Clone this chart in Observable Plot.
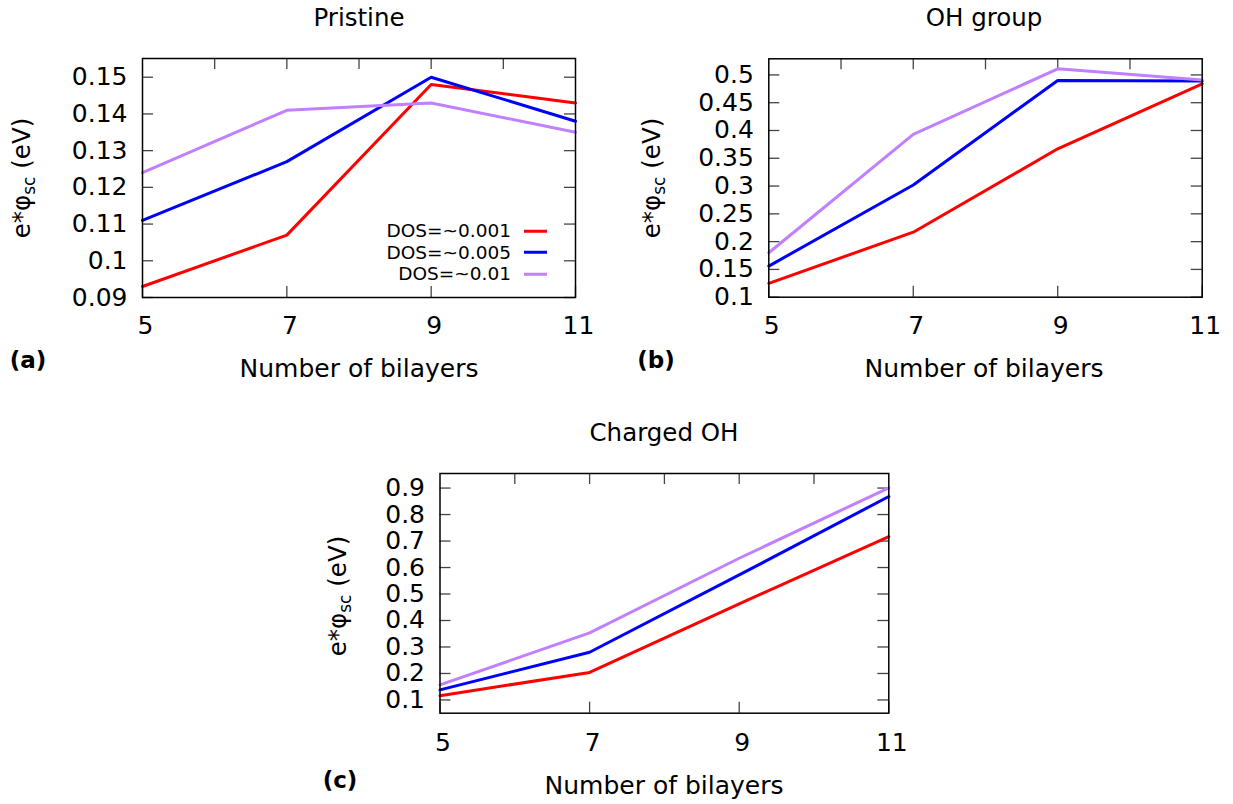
<!DOCTYPE html>
<html>
<head>
<meta charset="utf-8">
<script src="https://cdn.jsdelivr.net/npm/d3@7"></script>
<script src="https://cdn.jsdelivr.net/npm/@observablehq/plot@0.6"></script>
<style>
  body { margin: 0; background: #fff; font-family: "DejaVu Sans", sans-serif; }
  #fig { position: relative; width: 1233px; height: 804px; overflow: hidden; background: #fff; }
  .panel { position: absolute; }
  .txt { position: absolute; white-space: nowrap; color: #000; line-height: 1; transform: translate(-50%, -50%); }
  .title { font-size: 24.5px; }
  .xlab { font-size: 25px; }
  .tag { font-size: 23px; font-weight: bold; }
  .ylab { font-size: 24.5px; transform: translate(-50%, -50%) rotate(-90deg); }
  .ylab sub { font-size: 17px; vertical-align: -0.3em; line-height: 0; }
  .legend { position: absolute; font-size: 18.5px; line-height: 1; }
  .legend .row { position: absolute; right: 0; white-space: nowrap; display: flex; align-items: center; transform: translateY(-50%); }
  .legend .swatch { display: inline-block; width: 23px; height: 3px; margin-left: 13px; }
</style>
</head>
<body>
<div id="fig"></div>
<script>
// Number of bilayers on the x axis
const bilayers = [5, 7, 9, 11];
const topTicks = [6, 7, 8, 9, 10];

// Defect density series and their line colours
const dosLabels = ["DOS=~0.001", "DOS=~0.005", "DOS=~0.01"];
const dosColors = ["#ff0000", "#0000ff", "#c080ff"];

// e*phi_sc (eV), pristine surface
const pristineLow  = [0.093, 0.107, 0.148, 0.143];
const pristineMid  = [0.111, 0.127, 0.150, 0.138];
const pristineHigh = [0.124, 0.141, 0.143, 0.135];

// e*phi_sc (eV), OH group
const ohLow  = [0.125, 0.217, 0.367, 0.484];
const ohMid  = [0.156, 0.302, 0.490, 0.489];
const ohHigh = [0.180, 0.393, 0.511, 0.491];

// e*phi_sc (eV), charged OH
const chargedLow  = [0.116, 0.204, 0.463, 0.717];
const chargedMid  = [0.138, 0.280, 0.572, 0.868];
const chargedHigh = [0.157, 0.353, 0.635, 0.901];

// y tick values per panel
const pristineTicks = [0.09, 0.10, 0.11, 0.12, 0.13, 0.14, 0.15];
const ohTicks = [0.10, 0.15, 0.20, 0.25, 0.30, 0.35, 0.40, 0.45, 0.50];
const chargedTicks = [0.1, 0.2, 0.3, 0.4, 0.5, 0.6, 0.7, 0.8, 0.9];

const fig = document.getElementById("fig");
const fmt = d3.format("~g");

function rowsOf(series) {
  return bilayers.flatMap((n, i) => series.map((s, k) => ({n, v: s[i], dos: dosLabels[k]})));
}

function drawPanel({left, top, width, height, mLeft, mRight, mTop, mBottom, yDomain, yTicks, series, xPad}) {
  const innerW = width - mLeft - mRight;
  const innerH = height - mTop - mBottom;
  const tickLen = 11;
  const tickColor = "#444";
  const chart = Plot.plot({
    width, height,
    marginLeft: mLeft, marginRight: mRight, marginTop: mTop, marginBottom: mBottom,
    style: {fontFamily: "DejaVu Sans, sans-serif", fontSize: "25px", color: "#000", background: "transparent", overflow: "visible"},
    x: {domain: [5, 11]},
    y: {domain: yDomain},
    color: {domain: dosLabels, range: dosColors},
    marks: [
      // inward ticks on all four sides
      Plot.tickY(yTicks, {y: d => d, stroke: tickColor, strokeWidth: 1.3, insetRight: innerW - tickLen}),
      Plot.tickY(yTicks, {y: d => d, stroke: tickColor, strokeWidth: 1.3, insetLeft: innerW - tickLen}),
      Plot.tickX(bilayers, {x: d => d, stroke: tickColor, strokeWidth: 1.3, insetTop: innerH - tickLen}),
      Plot.tickX(topTicks, {x: d => d, stroke: tickColor, strokeWidth: 1.3, insetBottom: innerH - tickLen}),
      Plot.line(rowsOf(series), {x: "n", y: "v", z: "dos", stroke: "dos", strokeWidth: 3}),
      Plot.frame({stroke: "#000", strokeWidth: 1.5}),
      Plot.axisY({ticks: yTicks, tickSize: 0, tickPadding: 15, tickFormat: fmt, label: null, fontSize: 25}),
      Plot.axisX({ticks: bilayers, tickSize: 0, tickPadding: xPad, tickFormat: fmt, label: null, fontSize: 25, dx: 3})
    ]
  });
  chart.classList.add("panel");
  chart.style.left = left + "px";
  chart.style.top = top + "px";
  fig.appendChild(chart);
}

function addText(cls, html, x, y) {
  const d = document.createElement("div");
  d.className = "txt " + cls;
  d.innerHTML = html;
  d.style.left = x + "px";
  d.style.top = y + "px";
  fig.appendChild(d);
}

const yLabel = "e*φ<sub>sc</sub> (eV)";

// (a) Pristine
drawPanel({left: 0, top: 0, width: 600, height: 400, mLeft: 142, mRight: 25, mTop: 58, mBottom: 103,
  yDomain: [0.09, 0.1551], yTicks: pristineTicks, series: [pristineLow, pristineMid, pristineHigh], xPad: 19});
addText("title", "Pristine", 359, 18);
addText("xlab", "Number of bilayers", 359, 368);
addText("tag", "(a)", 28, 360);
addText("ylab", yLabel, 22, 178);

// (b) OH group
drawPanel({left: 620, top: 0, width: 600, height: 400, mLeft: 148.3, mRight: 18.3, mTop: 58.3, mBottom: 103.3,
  yDomain: [0.1, 0.529], yTicks: ohTicks, series: [ohLow, ohMid, ohHigh], xPad: 19});
addText("title", "OH group", 984, 18);
addText("xlab", "Number of bilayers", 984, 368);
addText("tag", "(b)", 656, 360);
addText("ylab", yLabel, 652, 178);

// (c) Charged OH
drawPanel({left: 300, top: 410, width: 600, height: 394, mLeft: 139.5, mRight: 11.7, mTop: 63, mBottom: 91.3,
  yDomain: [0.05, 0.955], yTicks: chargedTicks, series: [chargedLow, chargedMid, chargedHigh], xPad: 20});
addText("title", "Charged OH", 664, 433);
addText("xlab", "Number of bilayers", 664, 785);
addText("tag", "(c)", 340, 780);
addText("ylab", yLabel, 338, 596);

// legend inside panel (a)
const legend = document.createElement("div");
legend.className = "legend";
legend.style.left = "0px";
legend.style.top = "0px";
legend.style.width = "547px";
const rowY = [231, 252.5, 274];
dosLabels.forEach((label, k) => {
  const row = document.createElement("div");
  row.className = "row";
  row.style.top = rowY[k] + "px";
  row.innerHTML = `<span>${label}</span><span class="swatch" style="background:${dosColors[k]}"></span>`;
  legend.appendChild(row);
});
fig.appendChild(legend);
</script>
</body>
</html>
